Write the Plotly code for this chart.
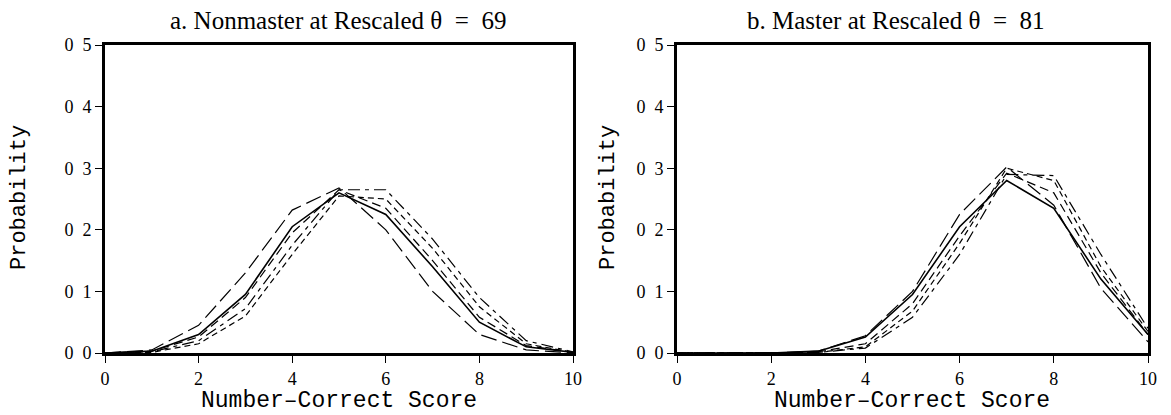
import plotly.graph_objects as go

scores = [0, 1, 2, 3, 4, 5, 6, 7, 8, 9, 10]

# Panel a: Nonmaster at rescaled theta = 69
a_solid = [0, 0.003, 0.030, 0.095, 0.205, 0.260, 0.225, 0.140, 0.050, 0.010, 0.001]
a_long = [0, 0.005, 0.045, 0.130, 0.232, 0.268, 0.200, 0.100, 0.030, 0.005, 0.000]
a_dash1 = [0, 0.003, 0.026, 0.090, 0.195, 0.265, 0.235, 0.150, 0.058, 0.012, 0.001]
a_dash2 = [0, 0.001, 0.015, 0.060, 0.160, 0.255, 0.250, 0.170, 0.075, 0.015, 0.001]
a_dash3 = [0, 0.002, 0.020, 0.072, 0.175, 0.265, 0.265, 0.185, 0.090, 0.020, 0.002]

# Panel b: Master at rescaled theta = 81
b_solid = [0, 0, 0, 0.003, 0.026, 0.095, 0.205, 0.280, 0.235, 0.120, 0.030]
b_long = [0, 0, 0, 0.003, 0.028, 0.100, 0.225, 0.302, 0.240, 0.105, 0.018]
b_dash1 = [0, 0, 0, 0.002, 0.015, 0.080, 0.190, 0.292, 0.260, 0.130, 0.030]
b_dash2 = [0, 0, 0, 0.001, 0.010, 0.068, 0.178, 0.300, 0.280, 0.140, 0.035]
b_dash3 = [0, 0, 0, 0.001, 0.008, 0.058, 0.160, 0.290, 0.288, 0.160, 0.040]

x_ticks = [0, 2, 4, 6, 8, 10]
y_ticks = [0, 0.1, 0.2, 0.3, 0.4, 0.5]
y_ticktext = ["0\u00a0\u00a00", "0\u00a0\u00a01", "0\u00a0\u00a02",
              "0\u00a0\u00a03", "0\u00a0\u00a04", "0\u00a0\u00a05"]

titles = ["a. Nonmaster at Rescaled θ\u00a0\u00a0=\u00a0\u00a069",
          "b. Master at Rescaled θ\u00a0\u00a0=\u00a0\u00a081"]
x_title = "Number\u2013Correct Score"
y_title = "Probability"

styles = [
    ("solid", 1.6),
    ("16px,6px", 1.2),
    ("9px,5px", 1.2),
    ("6px,4px", 1.2),
    ("12px,5px,4px,5px", 1.2),
]

fig = go.Figure()
panels = [
    ("x", "y", [a_solid, a_long, a_dash1, a_dash2, a_dash3]),
    ("x2", "y2", [b_solid, b_long, b_dash1, b_dash2, b_dash3]),
]
for xa, ya, series in panels:
    for vals, (dash, w) in zip(series, styles):
        fig.add_trace(go.Scatter(x=scores, y=vals, mode="lines", xaxis=xa, yaxis=ya,
                                 line=dict(color="black", width=w, dash=dash),
                                 showlegend=False, hoverinfo="skip"))

tick_font = dict(family="Liberation Serif", size=18, color="black")
axis_common = dict(showgrid=False, zeroline=False, showline=True, linecolor="black",
                   linewidth=3, mirror=True, ticks="outside", ticklen=7, tickwidth=1,
                   tickcolor="black", tickfont=tick_font, automargin=False)

ydom = [62 / 415, 370 / 415]
fig.update_layout(
    width=1171, height=415, margin=dict(l=0, r=0, t=0, b=0),
    plot_bgcolor="white", paper_bgcolor="white",
    xaxis=dict(domain=[105 / 1171, 573 / 1171], range=[0, 10], tickvals=x_ticks, anchor="y",
               **axis_common),
    yaxis=dict(domain=ydom, range=[0, 0.5], tickvals=y_ticks, ticktext=y_ticktext, anchor="x",
               **axis_common),
    xaxis2=dict(domain=[677 / 1171, 1148 / 1171], range=[0, 10], tickvals=x_ticks, anchor="y2",
                **axis_common),
    yaxis2=dict(domain=ydom, range=[0, 0.5], tickvals=y_ticks, ticktext=y_ticktext, anchor="x2",
                **axis_common),
)

ann = []
for cx, t in zip([338, 896], titles):
    ann.append(dict(text=t, x=cx / 1171, y=(415 - 20) / 415, xref="paper", yref="paper",
                    showarrow=False, xanchor="center", yanchor="middle",
                    font=dict(family="Liberation Serif", size=25, color="black")))
for cx in [339, 912]:
    ann.append(dict(text=x_title, x=cx / 1171, y=(415 - 401) / 415, xref="paper", yref="paper",
                    showarrow=False, xanchor="center", yanchor="middle",
                    font=dict(family="Liberation Mono", size=23, color="black")))
for cx in [20, 609]:
    ann.append(dict(text=y_title, x=cx / 1171, y=(415 - 198) / 415, xref="paper", yref="paper",
                    showarrow=False, xanchor="center", yanchor="middle", textangle=-90,
                    font=dict(family="Liberation Mono", size=22, color="black")))
fig.update_layout(annotations=ann)

fig.write_html("out.html", config={"displayModeBar": False},
               post_script="document.body.style.margin='0';document.body.style.overflow='hidden';")
